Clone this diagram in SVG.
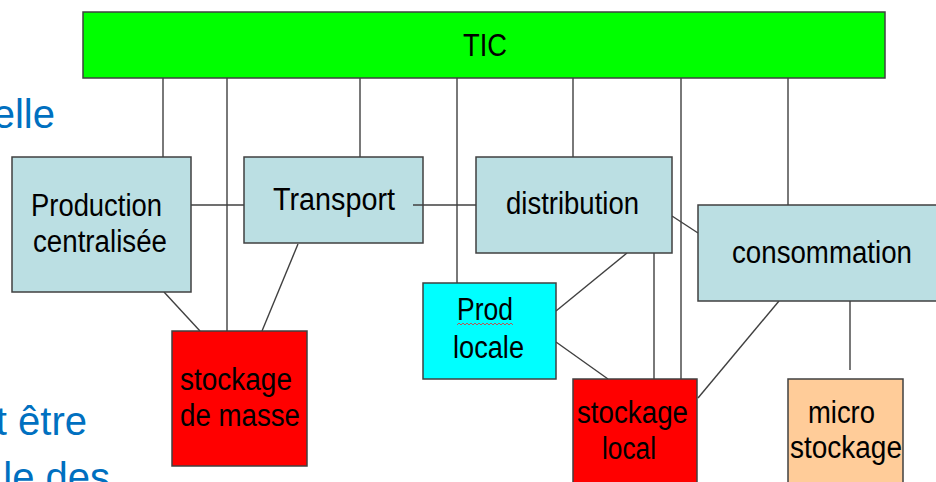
<svg xmlns="http://www.w3.org/2000/svg" width="936" height="482" viewBox="0 0 936 482">
<style>
.box{stroke:#404040;stroke-width:1.5}
.lb{fill:#BBDFE3}
.t{font-family:"Liberation Sans",Arial,sans-serif;font-size:31px;fill:#000}
.bg{font-family:"Liberation Sans",Arial,sans-serif;font-size:40px;fill:#0070C0}
.c line{stroke:#404040;stroke-width:1.4}
</style>
<rect width="936" height="482" fill="#fff"/>
<g id="background-text">
<text class="bg" x="55" y="128" text-anchor="end">elle</text>
<text class="bg" x="87" y="435" text-anchor="end">t être</text>
<text class="bg" x="110" y="491" text-anchor="end">le des</text>
</g>
<g class="c" id="connectors">
<line x1="163" y1="78" x2="163" y2="157"/>
<line x1="227" y1="78" x2="227" y2="331"/>
<line x1="360" y1="78" x2="360" y2="157"/>
<line x1="457" y1="78" x2="457" y2="283"/>
<line x1="573" y1="78" x2="573" y2="157"/>
<line x1="681" y1="78" x2="681" y2="379"/>
<line x1="788" y1="78" x2="788" y2="205"/>
<line x1="191" y1="205" x2="244" y2="205"/>
<line x1="672" y1="216" x2="698" y2="233"/>
<line x1="627" y1="253" x2="556" y2="311"/>
<line x1="556" y1="342" x2="608" y2="379"/>
<line x1="654" y1="253" x2="654" y2="379"/>
<line x1="779" y1="301" x2="698" y2="398"/>
<line x1="850" y1="301" x2="850" y2="370"/>
<line x1="164" y1="292" x2="200" y2="331"/>
<line x1="298" y1="244" x2="262" y2="331"/>
</g>
<g id="tic">
<rect class="box" x="83" y="12" width="802" height="66" fill="#00FF00"/>
<text class="t" x="463" y="56" textLength="44" lengthAdjust="spacingAndGlyphs">TIC</text>
</g>
<g id="production">
<rect class="box lb" x="12" y="157" width="179" height="135"/>
<text class="t" x="31" y="216" textLength="131" lengthAdjust="spacingAndGlyphs">Production</text>
<text class="t" x="33" y="252" textLength="134" lengthAdjust="spacingAndGlyphs">centralisée</text>
</g>
<g id="transport">
<rect class="box lb" x="244" y="157" width="179" height="86"/>
<text class="t" x="273" y="210" textLength="122" lengthAdjust="spacingAndGlyphs">Transport</text>
<line x1="413" y1="205" x2="476" y2="205" stroke="#404040" stroke-width="1.4"/>
</g>
<g id="distribution">
<rect class="box lb" x="476" y="157" width="196" height="96"/>
<text class="t" x="506" y="214" textLength="133" lengthAdjust="spacingAndGlyphs">distribution</text>
</g>
<g id="consommation">
<rect class="box lb" x="698" y="205" width="250" height="96"/>
<text class="t" x="732" y="263" textLength="180" lengthAdjust="spacingAndGlyphs">consommation</text>
</g>
<g id="prod-locale">
<rect class="box" x="423" y="283" width="133" height="96" fill="#00FFFF"/>
<text class="t" x="457" y="320" textLength="56" lengthAdjust="spacingAndGlyphs">Prod</text>
<polyline points="457,325 459,323 461,325 463,323 465,325 467,323 469,325 471,323 473,325 475,323 477,325 479,323 481,325 483,323 485,325 487,323 489,325 491,323 493,325 495,323 497,325 499,323 501,325 503,323 505,325 507,323 509,325 511,323 513,325" fill="none" stroke="#E03030" stroke-width="0.8"/>
<text class="t" x="453" y="358" textLength="71" lengthAdjust="spacingAndGlyphs">locale</text>
</g>
<g id="stockage-masse">
<rect class="box" x="172" y="331" width="135" height="135" fill="#FF0000"/>
<text class="t" x="180" y="390" textLength="112" lengthAdjust="spacingAndGlyphs">stockage</text>
<text class="t" x="180" y="426" textLength="120" lengthAdjust="spacingAndGlyphs">de masse</text>
</g>
<g id="stockage-local">
<rect class="box" x="573" y="379" width="124" height="120" fill="#FF0000"/>
<text class="t" x="577" y="423" textLength="111" lengthAdjust="spacingAndGlyphs">stockage</text>
<text class="t" x="602" y="459" textLength="54" lengthAdjust="spacingAndGlyphs">local</text>
</g>
<g id="micro-stockage">
<rect class="box" x="788" y="379" width="115" height="120" fill="#FFCC99"/>
<text class="t" x="808" y="423" textLength="67" lengthAdjust="spacingAndGlyphs">micro</text>
<text class="t" x="790" y="458" textLength="112" lengthAdjust="spacingAndGlyphs">stockage</text>
</g>
</svg>
